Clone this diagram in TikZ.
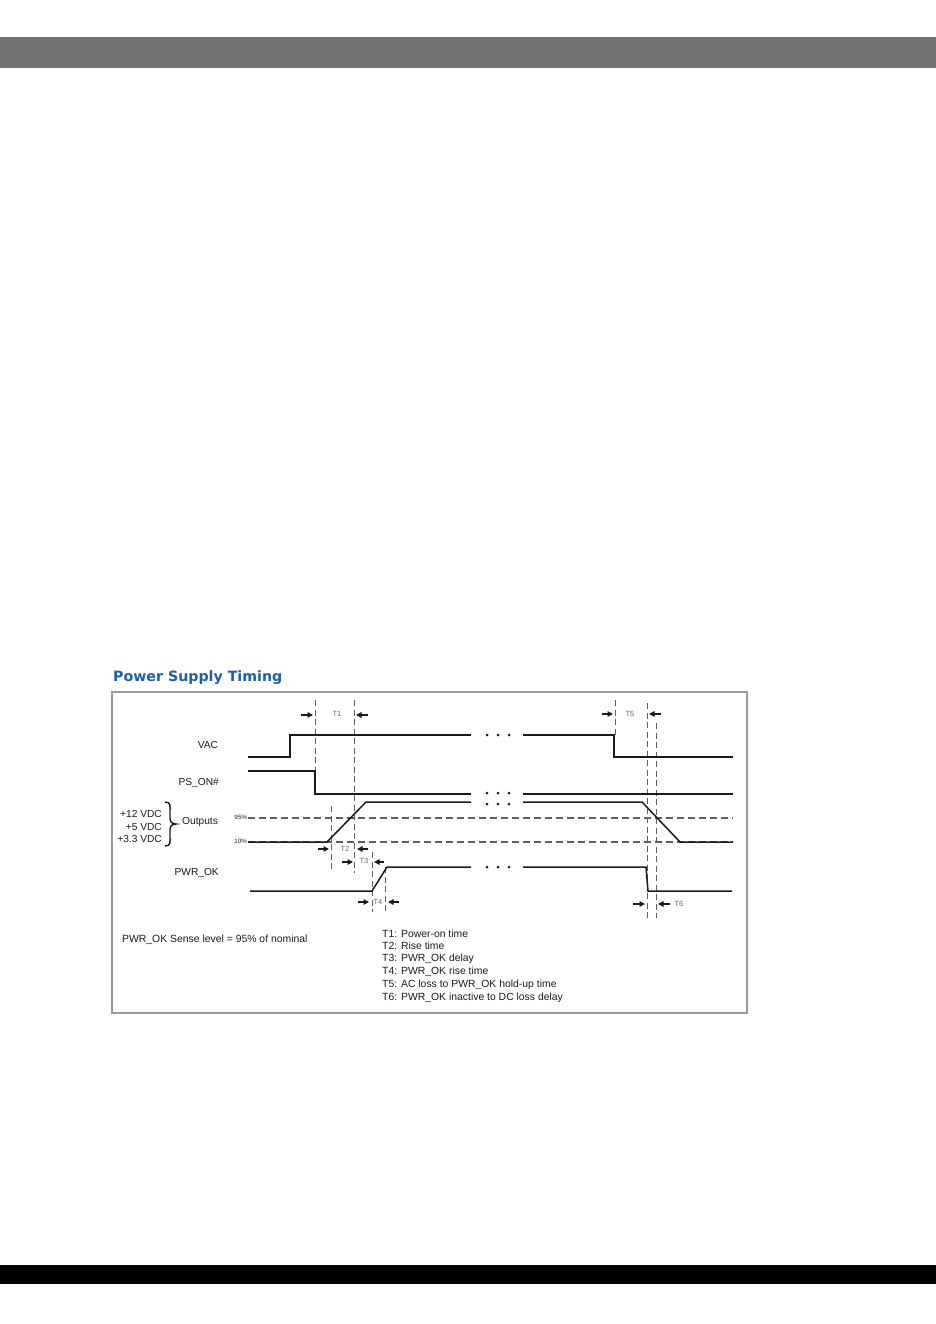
\documentclass[tikz,border=0pt]{standalone}
\usepackage{fontspec}
\setmainfont{Liberation Sans}
\newfontfamily\titlefont{DejaVu Sans}
\usetikzlibrary{arrows.meta}
\definecolor{barGray}{HTML}{737373}
\definecolor{titleBlue}{HTML}{1F5FA5}
\definecolor{sig}{HTML}{1A1A1A}
\definecolor{guide}{HTML}{5E5E5E}
\definecolor{frameGray}{HTML}{9A9A9A}
\begin{document}
\begin{tikzpicture}[x=1pt,y=-1pt,
 sigline/.style={line width=1.5pt, color=sig},
 guideline/.style={line width=1pt, color=guide, dash pattern=on 6pt off 3.5pt},
 levelline/.style={line width=1.3pt, color=guide, dash pattern=on 7pt off 4pt},
 tarrow/.style={line width=1.3pt, color=sig, -{Triangle[length=5.5pt,width=5.5pt]}},
 lbl/.style={font=\fontsize{10.2}{12}\selectfont, text=sig, inner sep=0},
 leg/.style={font=\fontsize{10.4}{12}\selectfont, text=sig, inner sep=0, anchor=west},
 tlbl/.style={font=\fontsize{7.5}{8}\selectfont, text=black!60, inner sep=0},
 plbl/.style={font=\fontsize{6.2}{7}\selectfont, text=sig, inner sep=0},
 dotmark/.style={circle, fill=sig, inner sep=0, minimum size=3pt}
]
\useasboundingbox (0,0) rectangle (936,1324);
% page bars
\fill[barGray] (0,37) rectangle (936,68);
\fill[black] (0,1265) rectangle (936,1284);
% title and frame
\node[anchor=base west, font=\titlefont\bfseries\fontsize{14.2}{16}\selectfont, text=titleBlue, inner sep=0] (title) at (113,681) {Power Supply Timing};
\draw[color=frameGray, line width=1.2pt] (112,692) rectangle (747,1013);
% signal labels
\node[lbl] (vac) at (208,745) {VAC};
\node[lbl, anchor=east] (pson) at (219,783) {PS\_ON\#};
\node[lbl, anchor=east] (v12) at (162,814) {+12 VDC};
\node[lbl, anchor=east] (v5) at (162,827) {+5 VDC};
\node[lbl, anchor=east] (v33) at (162,839) {+3.3 VDC};
\draw[line width=1.4pt, color=sig] (165,802) .. controls (171,802) and (170,806) .. (170,812) -- (170,818) .. controls (170,822) and (172,824) .. (176,824) .. controls (172,824) and (170,826) .. (170,830) -- (170,836) .. controls (170,842) and (171,846) .. (165,846);
\node[lbl, anchor=west] (outs) at (182,822) {Outputs};
\node[lbl, anchor=east] (pwrok) at (219,873) {PWR\_OK};
\node[plbl, anchor=east] (p95) at (247,817) {95\%};
\node[plbl, anchor=east] (p10) at (247,841) {10\%};
% level lines
\draw[levelline] (248,818) -- (733,818);
\draw[levelline] (248,842) -- (733,842);
% guide lines
\draw[guideline] (315,700) -- (315,771);
\draw[guideline] (354,700) -- (354,873);
\draw[guideline] (331,806) -- (331,871);
\draw[guideline] (372,852) -- (372,912);
\draw[guideline] (385,867) -- (385,912);
\draw[guideline] (615,700) -- (615,735);
\draw[guideline] (647,703) -- (647,918);
\draw[guideline] (656,723) -- (656,918);
% signals
\draw[sigline] (248,757) -- (290,757) -- (290,735) -- (471,735);
\draw[sigline] (523,735) -- (614,735) -- (614,757) -- (733,757);
\draw[sigline] (248,771) -- (315,771) -- (315,794) -- (471,794);
\draw[sigline] (523,794) -- (733,794);
\draw[sigline] (248,842) -- (327,842) -- (366,802) -- (471,802);
\draw[sigline] (523,802) -- (642,802) -- (680,842) -- (733,842);
\draw[sigline] (250,891) -- (372,891) -- (387,867) -- (471,867);
\draw[sigline] (523,867) -- (646,867) -- (648,891) -- (732,891);
% continuation dots
\foreach \yy in {735,793,804,867}{
  \foreach \xx in {487,498,509}{
    \node[dotmark] at (\xx,\yy) {};
  }
}
% timing arrows
\draw[tarrow] (301,715) -- (313,715);
\node[tlbl] (t1) at (337,714) {T1};
\draw[tarrow] (368,715) -- (356,715);
\draw[tarrow] (318,849) -- (329,849);
\node[tlbl] (t2) at (345,849) {T2};
\draw[tarrow] (368,849) -- (357,849);
\draw[tarrow] (342,862) -- (353,862);
\node[tlbl] (t3) at (364,861) {T3};
\draw[tarrow] (384,862) -- (374,862);
\draw[tarrow] (358,902) -- (369,902);
\node[tlbl] (t4) at (378,902) {T4};
\draw[tarrow] (399,902) -- (388,902);
\draw[tarrow] (602,714) -- (613,714);
\node[tlbl] (t5) at (630,714) {T5};
\draw[tarrow] (661,714) -- (649,714);
\draw[tarrow] (633,904) -- (645,904);
\draw[tarrow] (670,904) -- (658,904);
\node[tlbl] (t6) at (679,904) {T6};
% notes
\node[leg] (sense) at (122,940) {PWR\_OK Sense level = 95\% of nominal};
\node[leg] (l1) at (382,934) {T1: Power-on time};
\node[leg] (l2) at (382,946) {T2: Rise time};
\node[leg] (l3) at (382,959) {T3: PWR\_OK delay};
\node[leg] (l4) at (382,972) {T4: PWR\_OK rise time};
\node[leg] (l5) at (382,985) {T5: AC loss to PWR\_OK hold-up time};
\node[leg] (l6) at (382,998) {T6: PWR\_OK inactive to DC loss delay};
\end{tikzpicture}
\end{document}
